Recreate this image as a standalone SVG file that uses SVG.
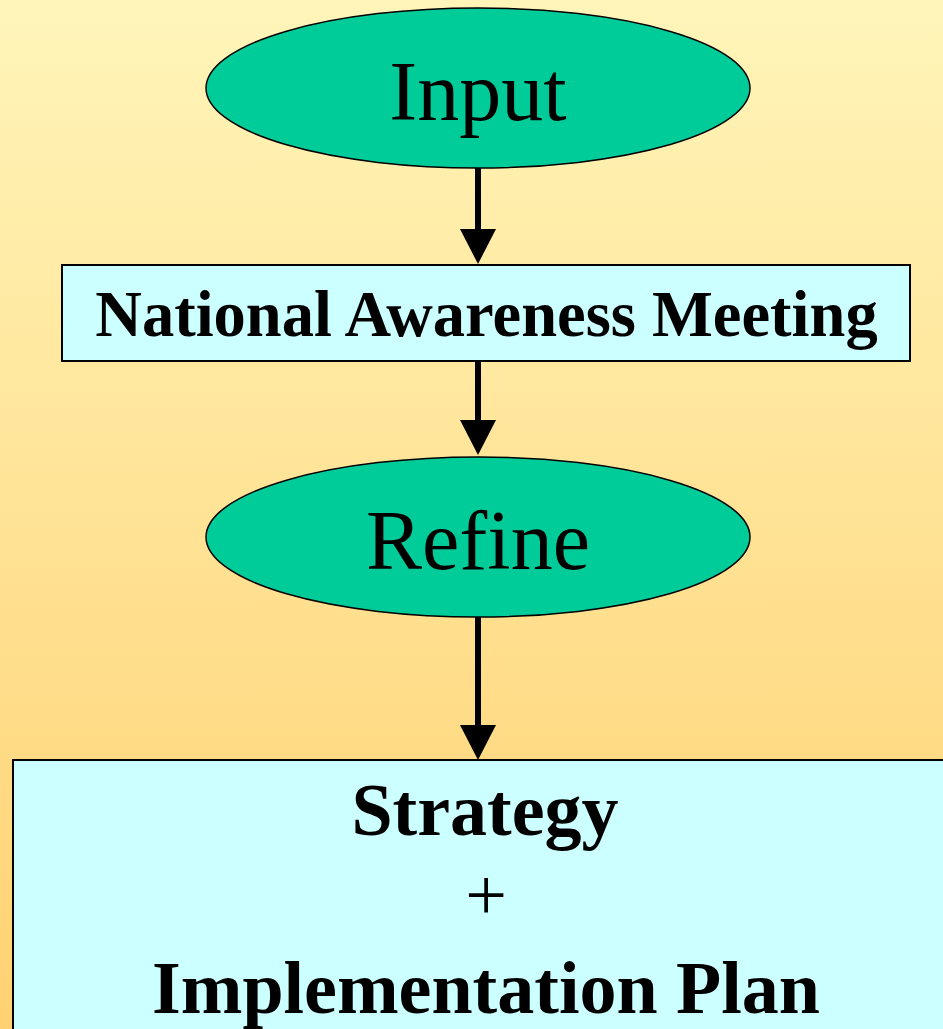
<svg xmlns="http://www.w3.org/2000/svg" width="943" height="1029" viewBox="0 0 943 1029">
<defs>
<linearGradient id="bg" x1="0" y1="0" x2="0" y2="1">
<stop offset="0" stop-color="#FFF5B9"/>
<stop offset="1" stop-color="#FFD172"/>
</linearGradient>
<marker id="ah" markerUnits="userSpaceOnUse" markerWidth="36" markerHeight="36" viewBox="0 0 35 36" refX="0" refY="18" orient="auto">
<path d="M0,0 L35,18 L0,36 z" fill="#000"/>
</marker>
<style>
.ell{fill:#00CC99;stroke:#000;stroke-width:1.5}
.box{fill:#CCFFFF;stroke:#000;stroke-width:2}
.reg{font-family:"Liberation Serif","Times New Roman",serif;fill:#000;text-anchor:middle}
.bold{font-family:"Liberation Serif","Times New Roman",serif;font-weight:bold;fill:#000;text-anchor:middle}
.conn{stroke:#000;stroke-width:6;fill:none;marker-end:url(#ah)}
</style>
</defs>
<rect x="0" y="0" width="943" height="1029" fill="url(#bg)"/>
<g id="connectors">
<line class="conn" x1="478" y1="168" x2="478" y2="229"/>
<line class="conn" x1="478" y1="361" x2="478" y2="420"/>
<line class="conn" x1="478" y1="617" x2="478" y2="725"/>
</g>
<g id="node-input">
<ellipse class="ell" cx="478" cy="88" rx="272" ry="80"/>
<text class="reg" x="478" y="120" font-size="84">Input</text>
</g>
<g id="node-meeting">
<rect class="box" x="62" y="265" width="848" height="96"/>
<text class="bold" x="486.5" y="336" font-size="64.5">National Awareness Meeting</text>
</g>
<g id="node-refine">
<ellipse class="ell" cx="478" cy="537" rx="272" ry="80"/>
<text class="reg" x="478" y="569" font-size="84">Refine</text>
</g>
<g id="node-strategy">
<rect class="box" x="13" y="760" width="940" height="300"/>
<text class="bold" x="485" y="835" font-size="74">Strategy</text>
<text class="reg" x="486" y="920" font-size="74">+</text>
<text class="bold" x="486" y="1013" font-size="74">Implementation Plan</text>
</g>
</svg>
